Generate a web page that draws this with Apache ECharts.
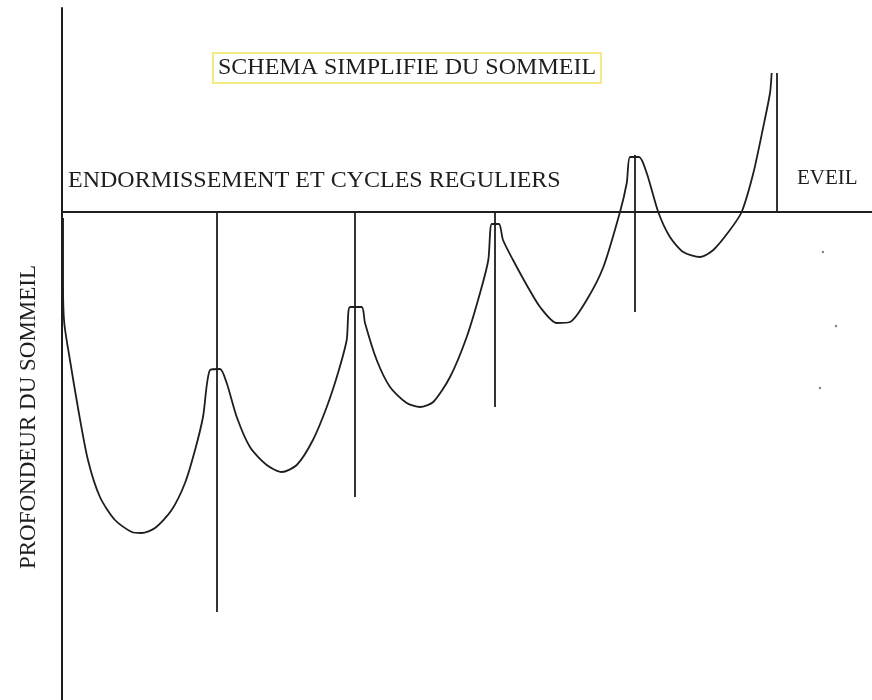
<!DOCTYPE html>
<html>
<head>
<meta charset="utf-8">
<script src="https://cdn.jsdelivr.net/npm/echarts@6/dist/echarts.min.js"></script>
<style>
html,body{margin:0;padding:0;background:#ffffff;}
#chart{width:872px;height:700px;}
</style>
</head>
<body>
<div id="chart"></div>
<script>
// Time since falling asleep (minutes) and sleep depth (positive = deeper)
const timeMin = [0.7, 0.7, 1.5, 5.3, 10.9, 17.3, 25.3, 35.3, 46.5, 53.1, 62.0, 73.1, 82.0, 88.7, 94.0, 98.7, 105.3,
  109.8, 116.5, 125.3, 136.5, 146.5, 156.5, 167.3, 176.5, 184.0, 189.8, 192.0, 199.8,
  202.0, 209.8, 218.7, 229.8, 238.7, 247.5, 258.7, 269.8, 278.7, 284.2, 286.5, 291.3,
  294.0, 300.7, 309.8, 318.7, 329.8, 338.7, 349.8, 360.9, 372.0, 376.5, 378.7, 384.7,
  389.8, 397.5, 405.3, 414.2, 425.3, 434.2, 445.3, 453.1, 460.9, 467.5, 472.0, 473.1];
const depth = [0.6, 7.3, 11.1, 14.8, 19.8, 24.8, 28.5, 30.8, 32.0, 32.1, 31.6, 29.8, 27.1, 23.8, 20.5, 15.8, 15.7,
  17.1, 20.5, 23.5, 25.3, 26.0, 25.3, 22.8, 19.5, 16.1, 12.8, 9.5, 9.5,
  11.1, 14.8, 17.5, 19.1, 19.5, 19.0, 16.5, 12.5, 8.1, 4.8, 1.2, 1.2,
  2.8, 4.8, 7.3, 9.5, 11.1, 11.0, 8.8, 5.5, 0.0, -2.9, -5.5, -5.5,
  -3.9, 0.0, 2.5, 4.0, 4.5, 3.8, 1.8, 0.0, -3.9, -8.5, -11.9, -13.9];

// Cycle separators
const separatorTime = [103.3, 195.3, 288.7, 382.0, 476.7];
const separatorTop = [0, 0, 0, -5.7, -13.9];
const separatorBottom = [40.0, 28.5, 19.5, 10.0, 0];

// Stray dots in the awake zone
const dotTime = [507.3, 516.0, 505.3];
const dotDepth = [4.0, 11.4, 17.6];

const titleText = 'SCHEMA SIMPLIFIE DU SOMMEIL';
const phaseLabels = ['ENDORMISSEMENT ET CYCLES REGULIERS', 'EVEIL'];
const yAxisName = 'PROFONDEUR DU SOMMEIL';

const FONT = "'Liberation Serif', 'Times New Roman', serif";
const INK = '#1e1e1e';

const curveData = timeMin.map((t, i) => [t, depth[i]]);
const sepLines = separatorTime.map((t, i) => [{coord: [t, separatorTop[i]]}, {coord: [t, separatorBottom[i]]}]);
const dotData = dotTime.map((t, i) => [t, dotDepth[i]]);

const chart = echarts.init(document.getElementById('chart'), null, {renderer: 'canvas'});
chart.setOption({
  animation: false,
  backgroundColor: '#ffffff',
  title: {
    text: titleText,
    left: 213,
    top: 53,
    padding: [3, 5, 3, 5],
    borderColor: '#f1e35a',
    borderWidth: 1.5,
    textStyle: {fontFamily: FONT, fontSize: 24, fontWeight: 'normal', color: INK, lineHeight: 24}
  },
  grid: {left: 62, right: 0, top: 8, bottom: 0, containLabel: false},
  xAxis: {
    type: 'value', min: 0, max: 540,
    axisLine: {show: true, onZero: true, lineStyle: {color: INK, width: 2}},
    axisTick: {show: false}, axisLabel: {show: false}, splitLine: {show: false}
  },
  yAxis: {
    type: 'value', min: -20.4, max: 48.8, inverse: true,
    axisLine: {show: true, onZero: false, lineStyle: {color: INK, width: 2}},
    axisTick: {show: false}, axisLabel: {show: false}, splitLine: {show: false}
  },
  graphic: [
    {type: 'text', x: 68, y: 181, style: {text: phaseLabels[0], fill: INK, font: '24px ' + FONT, textAlign: 'left', textVerticalAlign: 'middle'}},
    {type: 'text', x: 797, y: 178, style: {text: phaseLabels[1], fill: INK, font: '21px ' + FONT, textAlign: 'left', textVerticalAlign: 'middle'}},
    {type: 'text', x: 29, y: 417, rotation: Math.PI / 2, style: {text: yAxisName, fill: INK, font: '23px ' + FONT, textAlign: 'center', textVerticalAlign: 'middle'}}
  ],
  series: [
    {
      type: 'line', data: curveData, symbol: 'none', smooth: 0.25,
      lineStyle: {color: INK, width: 1.8},
      markLine: {
        silent: true, symbol: ['none', 'none'], label: {show: false},
        lineStyle: {color: INK, width: 1.8, type: 'solid'},
        data: sepLines
      }
    },
    {
      type: 'scatter', data: dotData, symbolSize: 2.5,
      itemStyle: {color: '#666666'}
    }
  ]
});
</script>
</body>
</html>
